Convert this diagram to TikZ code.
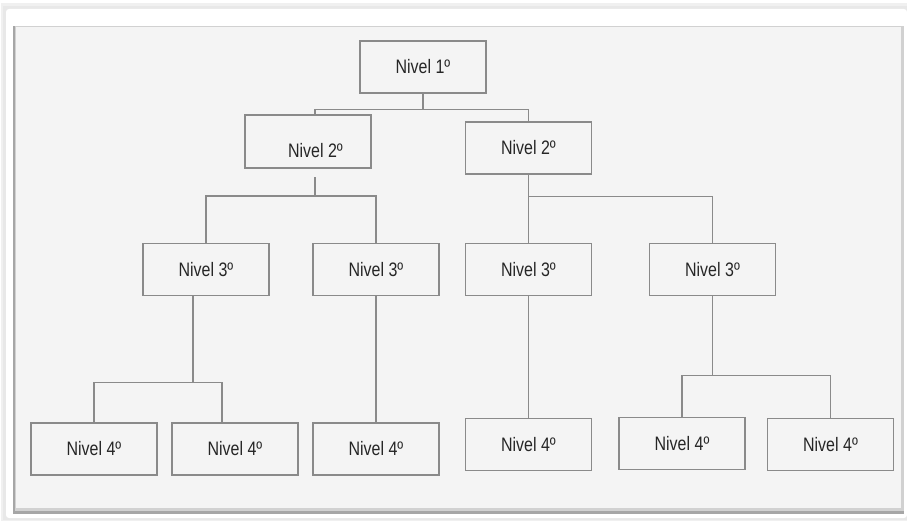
\documentclass[tikz,border=0pt]{standalone}
\usepackage{fontspec}
\usetikzlibrary{calc}
\newfontfamily\lab[FakeStretch=0.82]{Liberation Sans}
\definecolor{panel}{HTML}{F4F4F4}
\definecolor{boxline}{HTML}{8A8A8A}
\definecolor{txt}{HTML}{262626}
\definecolor{bevel}{HTML}{A0A0A0}
\begin{document}
\begin{tikzpicture}[x=1pt,y=-1pt,
  nbox/.style={draw=boxline, line width=1.1pt, fill=panel, minimum width=126pt,
    minimum height=52pt, inner sep=0pt, font=\lab\fontsize{19.5}{22}\selectfont, text=txt},
  conn/.style={draw=boxline, line width=1.1pt}]
\useasboundingbox (0,0) rectangle (907,521);
% frame
\fill[white] (0,0) rectangle (907,521);
\fill[black!6] (1,3) rectangle (907,521);
\fill[black!9] (3,6) rectangle (907,520);
\fill[white, rounded corners=3pt] (6,9) rectangle (907,518);
\fill[black!35] (13,26) rectangle (904,514);
\fill[black!18] (15,26) rectangle (904,511);
\fill[panel] (16,27) rectangle (901,508);
% nodes
\node[nbox] (L1) at (423,67) {Nivel 1º};
\node[nbox, minimum height=53pt] (L2a) at (308,141.5) {};
\node[font=\lab\fontsize{19.5}{22}\selectfont, text=txt] (L2at) at (315.5,151) {Nivel 2º};
\node[nbox] (L2b) at (528.5,148) {Nivel 2º};
\node[nbox] (L3a) at (206,269.5) {Nivel 3º};
\node[nbox] (L3b) at (376,269.5) {Nivel 3º};
\node[nbox] (L3c) at (528.5,269.5) {Nivel 3º};
\node[nbox] (L3d) at (712.5,269.5) {Nivel 3º};
\node[nbox] (L4a1) at (94,449) {Nivel 4º};
\node[nbox] (L4a2) at (235,449) {Nivel 4º};
\node[nbox] (L4b1) at (376,449) {Nivel 4º};
\node[nbox] (L4c1) at (528.5,444.5) {Nivel 4º};
\node[nbox] (L4d1) at (682,443.5) {Nivel 4º};
\node[nbox] (L4d2) at (830.5,444.5) {Nivel 4º};
% connectors
\draw[conn] (L1.south) -- ++(0,16) coordinate (j1);
\draw[conn] ($(L2a.north)+(7,0)$) |- (j1) -| (L2b.north);
\coordinate (j2a) at ($(L2a.south)+(7,27.5)$);
\draw[conn] ($(L2a.south)+(7,8.5)$) -- (j2a);
\draw[conn] (L3a.north) |- (j2a) -| (L3b.north);
\draw[conn] (L2b.south) -- (L3c.north);
\coordinate (j2b) at ($(L2b.south)+(0,22)$);
\draw[conn] (j2b) -| (L3d.north);
\coordinate (j3a) at ($(L3a.south)+(-13,86)$);
\draw[conn] ($(L3a.south)+(-13,0)$) -- (j3a);
\draw[conn] (L4a1.north) |- (j3a) -| ($(L4a2.north)+(-13,0)$);
\draw[conn] (L3b.south) -- (L4b1.north);
\draw[conn] (L3c.south) -- (L4c1.north);
\draw[conn] (L3d.south) -- ++(0,79) coordinate (j3d);
\draw[conn] (L4d1.north) |- (j3d) -| (L4d2.north);
\end{tikzpicture}
\end{document}
